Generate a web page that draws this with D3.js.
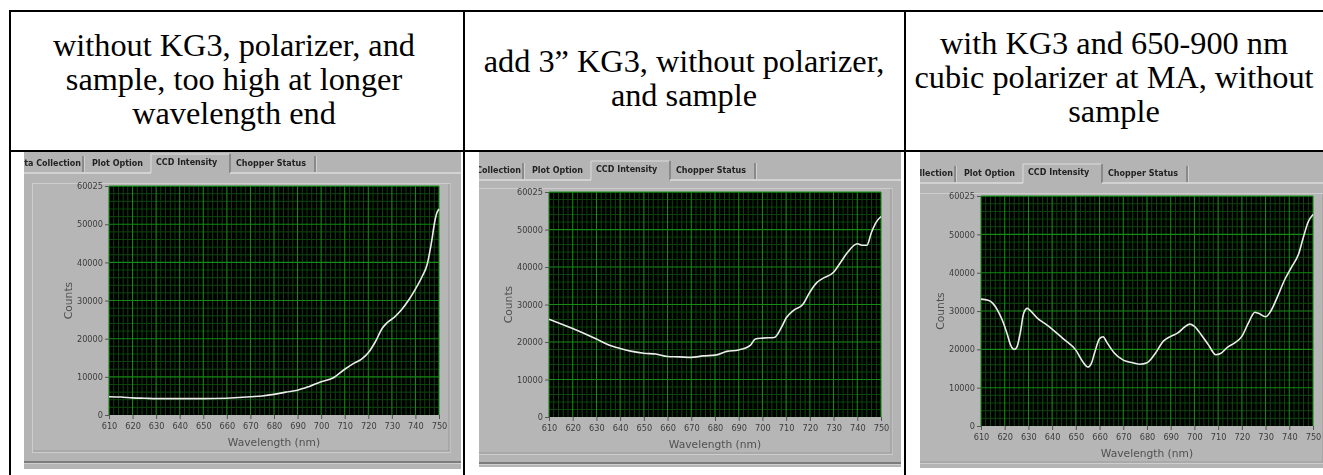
<!DOCTYPE html>
<html>
<head>
<meta charset="utf-8">
<script src="https://cdn.jsdelivr.net/npm/d3@7"></script>
<style>
    html, body { margin: 0; padding: 0; background: #fff; }
    svg { display: block; }
</style>
</head>
<body>
<svg id="chart"></svg>
<script>
const WIDTH = 1323;
const HEIGHT = 475;

// Column headers of the table
const HEADERS = [
    ['without KG3, polarizer, and', 'sample, too high at longer', 'wavelength end'],
    ['add 3\u201D KG3, without polarizer,', 'and sample'],
    ['with KG3 and 650-900 nm', 'cubic polarizer at MA, without', 'sample']
];

const TABS = ['Data Collection', 'Plot Option', 'CCD Intensity', 'Chopper Status'];

const X_TICKS = [610, 620, 630, 640, 650, 660, 670, 680, 690, 700, 710, 720, 730, 740, 750];
const Y_TICKS = [0, 10000, 20000, 30000, 40000, 50000, 60025];
const X_DOMAIN = [610, 750];
const Y_DOMAIN = [0, 60025];

// 1: without KG3, polarizer and sample
const wl1 = [610, 615, 620, 625, 630, 640, 650, 660, 665, 670, 675, 680, 685, 690, 695, 700, 705,
    710, 714, 717, 720, 723, 726, 728, 731, 734, 737, 740, 743, 745, 746, 747, 748, 749, 750];
const counts1 = [4800, 4700, 4500, 4400, 4300, 4300, 4300, 4400, 4600, 4800, 5000, 5400, 6000, 6500, 7500, 8700, 9700,
    12000, 13600, 14600, 16300, 19200, 22800, 24200, 25600, 27500, 30000, 33000, 36500, 39500, 42500, 46000, 50000, 52800, 54000];

// 2: with 3" KG3
const wl2 = [610, 620, 630, 635, 640, 645, 650, 655, 660, 665, 670, 675, 680, 685, 690, 695, 697, 700, 705,
    708, 710, 713, 717, 720, 723, 725, 730, 733, 736, 740, 742, 744, 746, 748, 750];
const counts2 = [26100, 23600, 20800, 19300, 18300, 17500, 17000, 16800, 16150, 16050, 15900, 16300, 16500, 17500, 17900, 19200, 20800, 21050, 21200,
    23900, 26400, 28400, 30000, 33300, 35900, 36800, 38600, 41300, 44000, 46200, 45800, 45800, 49300, 52000, 53500];

// 3: with KG3 and cubic polarizer
const wl3 = [610, 613, 615, 617, 619, 621, 622.5, 624, 625, 626.5, 628, 629.5, 631, 634, 637, 640, 645, 650, 653, 655,
    656.5, 658, 660, 661.5, 663, 666, 670, 674, 677, 680, 683, 687, 690, 693, 696, 698, 700, 703, 706, 709, 711,
    714, 717, 720, 723, 725.5, 727, 730, 732, 735, 738, 741, 744, 746, 748, 750];
const counts3 = [33100, 32800, 32000, 30200, 27600, 24100, 21100, 20000, 20400, 24100, 29400, 30700, 30000, 28000, 26700, 25300, 22600, 19800, 16700, 15400,
    16300, 19300, 22800, 23300, 21900, 19200, 17200, 16500, 16100, 16500, 18500, 22200, 23400, 24300, 25900, 26600, 26000, 23700, 21100, 18600, 18900,
    20600, 21700, 23400, 27200, 29700, 29400, 28500, 29800, 33700, 38100, 41500, 45000, 49400, 53300, 55200];

// Screenshot layout for each cell
const PANELS = [
    { x: 24, y: 152, w: 437, h: 317, x0: 24, tabY: 163, tabLineY: 173, frameTop: 183, frameBottom: 452, bottomLineY: 462,
      plot: { l: 109, t: 186, r: 439, b: 415 } },
    { x: 479, y: 152, w: 422, h: 315, x0: 464, tabY: 170, tabLineY: 180, frameTop: 188, frameBottom: 454, bottomLineY: 463,
      plot: { l: 549, t: 192, r: 881, b: 417 } },
    { x: 920, y: 152, w: 403, h: 316, x0: 896, tabY: 173, tabLineY: 183, frameTop: 193, frameBottom: 463, bottomLineY: 480,
      plot: { l: 981, t: 196, r: 1313, b: 426 } }
];

const svg = d3.select('#chart')
    .attr('width', WIDTH)
    .attr('height', HEIGHT);

svg.append('rect')
    .attr('width', WIDTH)
    .attr('height', HEIGHT)
    .attr('fill', '#fff');

const defs = svg.append('defs');

// the screenshots are slightly soft
defs.append('filter')
    .attr('id', 'soft')
    .attr('x', 0).attr('y', 0).attr('width', 1).attr('height', 1)
    .append('feGaussianBlur')
    .attr('stdDeviation', 0.4);

function drawPanel(p, wl, counts, i) {
    defs.append('clipPath')
        .attr('id', 'clip' + i)
        .append('rect')
        .attr('x', p.x).attr('y', p.y)
        .attr('width', p.w).attr('height', p.h);

    const outer = svg.append('g').attr('clip-path', `url(#clip${i})`);
    const g = outer.append('g').attr('filter', 'url(#soft)');

    g.append('rect')
        .attr('x', p.x - 2).attr('y', p.y - 2)
        .attr('width', p.w + 4).attr('height', p.h + 4)
        .attr('fill', '#b4b4b4');

    // tab row
    const x0 = p.x0;
    const ty = p.tabY;

    // active tab
    g.append('path')
        .attr('d', `M${x0 + 127},${p.tabLineY} V${ty - 9} H${x0 + 205}`)
        .attr('fill', 'none')
        .attr('stroke', '#dcdcdc');
    g.append('line')
        .attr('x1', x0 + 206).attr('x2', x0 + 206)
        .attr('y1', ty - 9).attr('y2', p.tabLineY)
        .attr('stroke', '#6e6e6e').attr('stroke-width', 1.2);

    // tab line under the tabs
    g.append('line')
        .attr('x1', p.x - 2).attr('x2', x0 + 127)
        .attr('y1', p.tabLineY).attr('y2', p.tabLineY)
        .attr('stroke', '#dcdcdc').attr('stroke-width', 1.4);
    g.append('line')
        .attr('x1', x0 + 206).attr('x2', p.x + p.w + 2)
        .attr('y1', p.tabLineY).attr('y2', p.tabLineY)
        .attr('stroke', '#dcdcdc').attr('stroke-width', 1.4);

    // dividers of the other tabs
    [59, 291].forEach(d => {
        g.append('line')
            .attr('x1', x0 + d).attr('x2', x0 + d)
            .attr('y1', ty - 7).attr('y2', p.tabLineY - 1)
            .attr('stroke', '#6e6e6e').attr('stroke-width', 1.2);
        g.append('line')
            .attr('x1', x0 + d + 1.5).attr('x2', x0 + d + 1.5)
            .attr('y1', ty - 7).attr('y2', p.tabLineY - 1)
            .attr('stroke', '#d0d0d0');
    });

    const tabText = g.append('g')
        .attr('font-family', 'DejaVu Sans, Verdana, sans-serif')
        .attr('font-weight', 'bold')
        .attr('font-size', 8)
        .attr('fill', '#222');
    tabText.append('text').attr('x', x0 + 57).attr('y', ty + 3).attr('text-anchor', 'end').text(TABS[0]);
    tabText.append('text').attr('x', x0 + 68).attr('y', ty + 3).text(TABS[1]);
    tabText.append('text').attr('x', x0 + 132).attr('y', ty + 1.5).text(TABS[2]);
    tabText.append('text').attr('x', x0 + 212).attr('y', ty + 3).text(TABS[3]);

    // graph frame
    const pl = p.plot;
    g.append('rect')
        .attr('x', x0 + 8.5).attr('y', p.frameTop + 0.5)
        .attr('width', pl.r + 11 - (x0 + 8.5)).attr('height', p.frameBottom - p.frameTop)
        .attr('fill', '#b6b6b6')
        .attr('stroke', '#cdcdcd');
    g.append('line')
        .attr('x1', x0 + 9).attr('x2', pl.r + 11)
        .attr('y1', p.frameBottom - 1).attr('y2', p.frameBottom - 1)
        .attr('stroke', '#9c9c9c').attr('stroke-width', 1.2);
    g.append('line')
        .attr('x1', pl.r + 10).attr('x2', pl.r + 10)
        .attr('y1', p.frameTop + 1).attr('y2', p.frameBottom - 1)
        .attr('stroke', '#9c9c9c').attr('stroke-width', 1.2);

    // bottom separator of the window
    g.append('line')
        .attr('x1', p.x - 2).attr('x2', p.x + p.w + 2)
        .attr('y1', p.bottomLineY).attr('y2', p.bottomLineY)
        .attr('stroke', '#6a6a6a').attr('stroke-width', 1.6);
    g.append('line')
        .attr('x1', p.x - 2).attr('x2', p.x + p.w + 2)
        .attr('y1', p.bottomLineY + 1.5).attr('y2', p.bottomLineY + 1.5)
        .attr('stroke', '#cfcfcf');

    // scales
    const x = d3.scaleLinear().domain(X_DOMAIN).range([pl.l, pl.r]);
    const y = d3.scaleLinear().domain(Y_DOMAIN).range([pl.b, pl.t]);

    g.append('rect')
        .attr('x', pl.l).attr('y', pl.t)
        .attr('width', pl.r - pl.l).attr('height', pl.b - pl.t)
        .attr('fill', '#000');

    const grid = g.append('g');
    const minorX = d3.range(X_DOMAIN[0], X_DOMAIN[1], 2).filter(v => v % 10 !== 0);
    const minorY = d3.range(2000, 60025, 2000).filter(v => v % 10000 !== 0);

    grid.selectAll('.mx').data(minorX).join('line')
        .attr('x1', d => x(d)).attr('x2', d => x(d))
        .attr('y1', pl.t).attr('y2', pl.b)
        .attr('stroke', '#0c450c').attr('stroke-width', 1);
    grid.selectAll('.my').data(minorY).join('line')
        .attr('x1', pl.l).attr('x2', pl.r)
        .attr('y1', d => y(d)).attr('y2', d => y(d))
        .attr('stroke', '#0c450c').attr('stroke-width', 1);
    grid.selectAll('.gx').data(X_TICKS).join('line')
        .attr('x1', d => x(d)).attr('x2', d => x(d))
        .attr('y1', pl.t).attr('y2', pl.b)
        .attr('stroke', '#138a13').attr('stroke-width', 1.1);
    grid.selectAll('.gy').data([10000, 20000, 30000, 40000, 50000, 60000]).join('line')
        .attr('x1', pl.l).attr('x2', pl.r)
        .attr('y1', d => y(d)).attr('y2', d => y(d))
        .attr('stroke', '#138a13').attr('stroke-width', 1.1);

    // axes
    const xAxis = g.append('g')
        .attr('transform', `translate(0,${pl.b})`)
        .call(d3.axisBottom(x).tickValues(X_TICKS).tickSize(4).tickPadding(4).tickSizeOuter(0));
    const yAxis = g.append('g')
        .attr('transform', `translate(${pl.l},0)`)
        .call(d3.axisLeft(y).tickValues(Y_TICKS).tickFormat(d3.format('d')).tickSize(4).tickPadding(2).tickSizeOuter(0));

    [xAxis, yAxis].forEach(a => {
        a.select('.domain').remove();
        a.selectAll('line').attr('stroke', '#555');
        a.selectAll('text')
            .attr('font-family', 'DejaVu Sans, Verdana, sans-serif')
            .attr('font-size', 8.2)
            .attr('fill', '#3c3c3c');
    });

    g.append('text')
        .attr('x', (pl.l + pl.r) / 2)
        .attr('y', pl.b + 31)
        .attr('text-anchor', 'middle')
        .attr('font-family', 'DejaVu Sans, Verdana, sans-serif')
        .attr('font-size', 10.7)
        .attr('fill', '#505050')
        .text('Wavelength (nm)');

    g.append('text')
        .attr('transform', `translate(${pl.l - 37},${(pl.t + pl.b) / 2}) rotate(-90)`)
        .attr('text-anchor', 'middle')
        .attr('font-family', 'DejaVu Sans, Verdana, sans-serif')
        .attr('font-size', 10.7)
        .attr('fill', '#505050')
        .text('Counts');

    // spectrum
    const line = d3.line()
        .x((d, j) => x(wl[j]))
        .y(d => y(d))
        .curve(d3.curveMonotoneX);

    g.append('path')
        .datum(counts)
        .attr('d', line)
        .attr('fill', 'none')
        .attr('stroke', '#ececec')
        .attr('stroke-width', 1.6);
}

drawPanel(PANELS[0], wl1, counts1, 0);
drawPanel(PANELS[1], wl2, counts2, 1);
drawPanel(PANELS[2], wl3, counts3, 2);

// header text
const COL_CENTERS = [234, 684, 1114];
const LINE_Y = [[56, 90, 124], [72, 106], [54, 88, 122]];

HEADERS.forEach((lines, c) => {
    svg.append('text')
        .attr('font-family', 'Liberation Serif, Times New Roman, serif')
        .attr('font-size', 32.3)
        .attr('fill', '#000')
        .attr('text-anchor', 'middle')
        .selectAll('tspan')
        .data(lines)
        .join('tspan')
        .attr('x', COL_CENTERS[c])
        .attr('y', (d, j) => LINE_Y[c][j])
        .text(d => d);
});

// table borders
const borders = svg.append('g')
    .attr('stroke', '#000')
    .attr('stroke-width', 2);
borders.append('line').attr('x1', 9).attr('x2', WIDTH).attr('y1', 11).attr('y2', 11);
borders.append('line').attr('x1', 9).attr('x2', WIDTH).attr('y1', 151).attr('y2', 151);
[10, 464, 905].forEach(cx => {
    borders.append('line').attr('x1', cx).attr('x2', cx).attr('y1', 10).attr('y2', HEIGHT);
});
</script>
</body>
</html>
